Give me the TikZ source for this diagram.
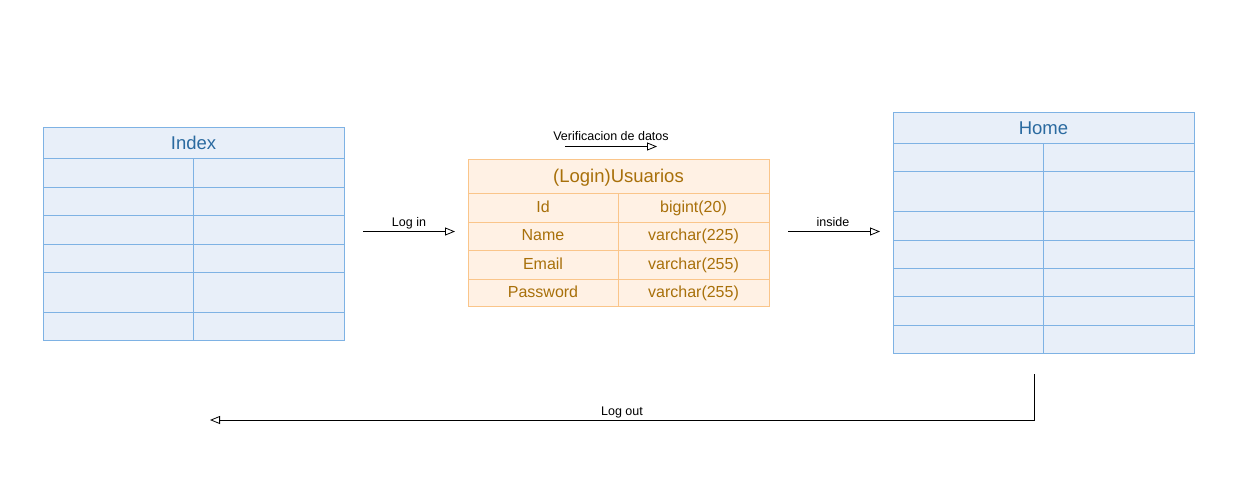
\documentclass[tikz,border=0pt]{standalone}
\usepackage{fontspec}
\setmainfont{Liberation Sans}
\usetikzlibrary{arrows.meta}
\definecolor{bline}{HTML}{7EB2E4}
\definecolor{bfill}{HTML}{E8EFF9}
\definecolor{btext}{HTML}{2A6AA0}
\definecolor{oline}{HTML}{FAC58A}
\definecolor{ofill}{HTML}{FFF1E4}
\definecolor{otext}{HTML}{A8700A}
\tikzset{
  cellbase/.style={rectangle, draw, line width=1pt, inner sep=0pt, outer sep=0pt, anchor=north west},
  bcell/.style={cellbase, draw=bline, fill=bfill},
  ocell/.style={cellbase, draw=oline, fill=ofill, text=otext, font=\fontsize{16}{18}\selectfont, text height=11.5pt, text depth=2pt},
  bhead/.style={bcell, text=btext, font=\fontsize{18.5}{20}\selectfont, text height=13.2pt, text depth=0pt},
  ohead/.style={ocell, font=\fontsize{18.5}{20}\selectfont, text height=13.2pt, text depth=0pt},
  conn/.style={draw=black, line width=0.8pt, -{Triangle[open, length=10pt, width=8pt]}},
  clabel/.style={font=\fontsize{12.5}{14}\selectfont, anchor=base, inner sep=0pt},
}
\begin{document}
\begin{tikzpicture}[x=1pt, y=-1pt]
\useasboundingbox[fill=white] (0,0) rectangle (1241,499);

% Index table
\node[bhead, minimum width=301pt, minimum height=31pt] (idxh) at (43,127) {Index};
\foreach \i/\ya/\yb in {1/158/187, 2/187/215, 3/215/244, 4/244/272, 5/272/312, 6/312/340} {
  \pgfmathsetmacro{\hh}{\yb-\ya}
  \node[bcell, minimum width=150pt, minimum height=\hh pt] (idx-\i-1) at (43,\ya) {};
  \node[bcell, minimum width=151pt, minimum height=\hh pt] (idx-\i-2) at (193,\ya) {};
}

% Home table
\node[bhead, minimum width=301pt, minimum height=31pt] (homeh) at (893,112) {Home};
\foreach \i/\ya/\yb in {1/143/171, 2/171/211, 3/211/240, 4/240/268, 5/268/296, 6/296/325, 7/325/353} {
  \pgfmathsetmacro{\hh}{\yb-\ya}
  \node[bcell, minimum width=150pt, minimum height=\hh pt] (home-\i-1) at (893,\ya) {};
  \node[bcell, minimum width=151pt, minimum height=\hh pt] (home-\i-2) at (1043,\ya) {};
}

% Usuarios table
\node[ohead, minimum width=301pt, minimum height=34pt] (usrh) at (468,159) {(Login)Usuarios};
\foreach \i/\ya/\yb/\fa/\fb in {1/193/222/Id/bigint(20), 2/222/250/Name/varchar(225), 3/250/279/Email/varchar(255), 4/279/306/Password/varchar(255)} {
  \pgfmathsetmacro{\hh}{\yb-\ya}
  \node[ocell, minimum width=150pt, minimum height=\hh pt] (usr-\i-1) at (468,\ya) {\fa};
  \node[ocell, minimum width=151pt, minimum height=\hh pt] (usr-\i-2) at (618,\ya) {\fb};
}

% connectors
\coordinate (li-a) at (363,231.5);
\coordinate (li-b) at (455,231.5);
\draw[conn] (li-a) -- (li-b);
\node[clabel] (li-t) at (409,226) {Log in};

\coordinate (in-a) at (788,231.5);
\coordinate (in-b) at (880,231.5);
\draw[conn] (in-a) -- (in-b);
\node[clabel] (in-t) at (833,226) {inside};

\coordinate (vd-a) at (565,146.5);
\coordinate (vd-b) at (657,146.5);
\draw[conn] (vd-a) -- (vd-b);
\node[clabel] (vd-t) at (611,140.5) {Verificacion de datos};

\coordinate (lo-a) at (1034,374);
\coordinate (lo-c) at (1034,420);
\coordinate (lo-b) at (210,420);
\draw[conn] (lo-a) -- (lo-c) -- (lo-b);
\node[clabel] (lo-t) at (622,415) {Log out};
\end{tikzpicture}
\end{document}
